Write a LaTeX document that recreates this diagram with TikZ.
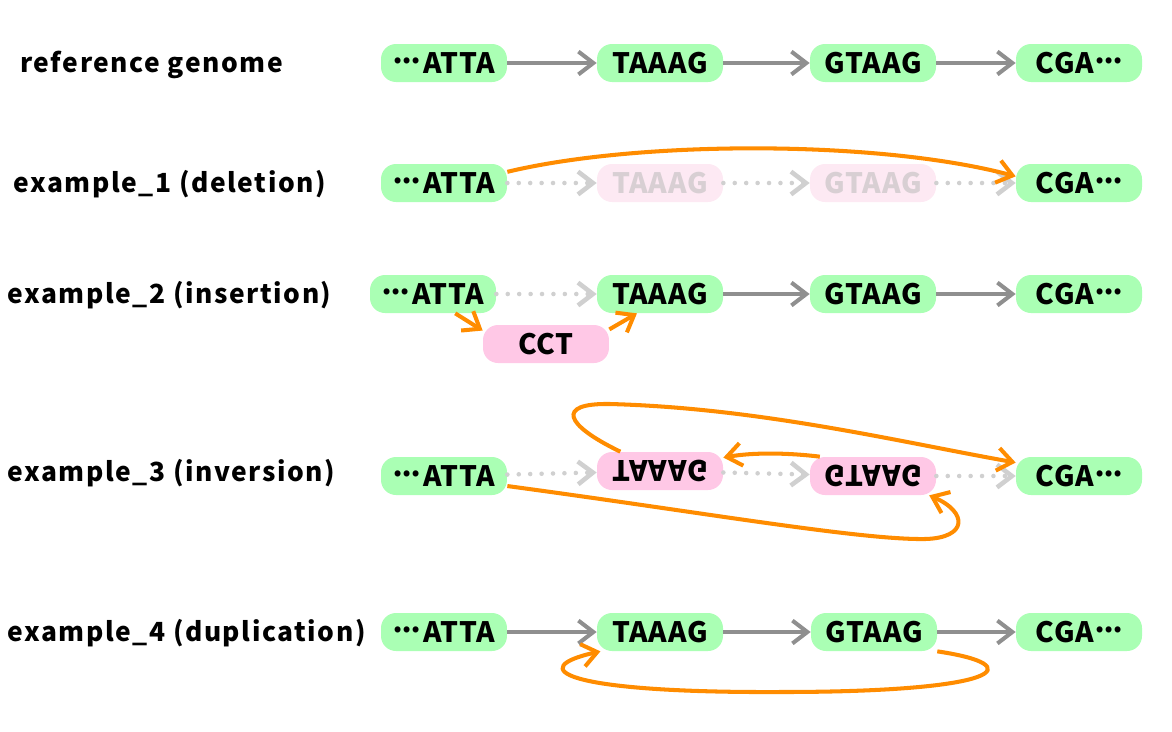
\documentclass[tikz,border=0pt]{standalone}
\usepackage{fontspec}
\setmainfont{Noto Sans CJK JP}
\usetikzlibrary{arrows.meta}

\definecolor{basegreen}{HTML}{AAFFB4}
\definecolor{varpink}{HTML}{FFC8E6}
\definecolor{ghostpink}{HTML}{FDE9F3}
\definecolor{ghosttext}{HTML}{D8CFD3}
\definecolor{linkgray}{HTML}{8F8F8F}
\definecolor{dotgray}{HTML}{D0D0D0}
\definecolor{jumporange}{HTML}{FF8C00}

% 居中的省略号
\newcommand{\middots}{\hspace{0.04em}\raisebox{0.06em}{\makebox[0.32em]{·}\makebox[0.32em]{·}\makebox[0.32em]{·}}\hspace{0.08em}}

\begin{document}
\begin{tikzpicture}[x=0.02cm, y=-0.02cm,
    seq/.style={rounded corners=0.3cm, minimum width=2.52cm, minimum height=0.76cm,
      inner sep=0pt, font=\fontsize{16}{18}\selectfont\bfseries\addfontfeatures{LetterSpace=3}},
    refseq/.style={seq, fill=basegreen},
    varseq/.style={seq, fill=varpink},
    ghostseq/.style={seq, fill=ghostpink, text=ghosttext},
    rowlabel/.style={anchor=base west, inner sep=0pt,
      font=\fontsize{15}{17}\selectfont\bfseries\addfontfeatures{LetterSpace=6}},
    tip/.style={-{Straight Barb[length=8.5pt, width=13pt]}},
    link/.style={tip, draw=linkgray, line width=2.3pt},
    skip/.style={tip, draw=dotgray, line width=2.6pt, line cap=round, dash pattern=on 0pt off 6.5pt},
    jump/.style={tip, draw=jumporange, line width=2.3pt}]
  \useasboundingbox (0,0) rectangle (1172,731);

  % 参考基因组
  \node[rowlabel] (lab0) at (20,72) {reference genome};
  \node[refseq] (refA) at (444,63) {\middots ATTA};
  \node[refseq] (refB) at (660,63) {TAAAG};
  \node[refseq] (refC) at (873,63) {GTAAG};
  \node[refseq] (refD) at (1079,63) {CGA\middots};
  \draw[link] (refA) -- (refB);
  \draw[link] (refB) -- (refC);
  \draw[link] (refC) -- (refD);

  % 缺失
  \node[rowlabel] (lab1) at (13,192) {example\_1 (deletion)};
  \node[refseq] (delA) at (444,183) {\middots ATTA};
  \node[ghostseq] (delB) at (660,183) {TAAAG};
  \node[ghostseq] (delC) at (873,183) {GTAAG};
  \node[refseq] (delD) at (1079,183) {CGA\middots};
  \draw[skip] (delA) -- (delB);
  \draw[skip] (delB) -- (delC);
  \draw[skip] (delC) -- (delD);
  \draw[jump] (delA.10) .. controls (640,140) and (880,140) .. (delD.174);

  % 插入
  \node[rowlabel] (lab2) at (7,303) {example\_2 (insertion)};
  \node[refseq] (insA) at (433,294) {\middots ATTA};
  \node[varseq] (insX) at (546,344) {CCT};
  \node[refseq] (insB) at (660,294) {TAAAG};
  \node[refseq] (insC) at (873,294) {GTAAG};
  \node[refseq] (insD) at (1079,294) {CGA\middots};
  \draw[skip] (insA) -- (insB);
  \draw[link] (insB) -- (insC);
  \draw[link] (insC) -- (insD);
  \draw[jump] (insA.-41) -- (insX.168);
  \draw[jump] (insX.13) -- (insB.220);

  % 倒位
  \node[rowlabel] (lab3) at (7,481) {example\_3 (inversion)};
  \node[refseq] (invA) at (444,476) {\middots ATTA};
  \node[varseq] (invB) at (660,471) {\scalebox{1}[-1]{TAAAG}};
  \node[varseq] (invC) at (873,476) {\scalebox{1}[-1]{GTAAG}};
  \node[refseq] (invD) at (1079,476) {CGA\middots};
  \draw[skip] (invA) -- (invB);
  \draw[skip] (invB) -- (invC);
  \draw[skip] (invC) -- (invD);
  \draw[jump] (invA.-9) .. controls (700,512) and (860,540) .. (925,539)
    .. controls (968,538) and (968,512) .. (invC.-19);
  \draw[jump] (invC.160) .. controls (790,453) and (755,452) .. (invB.12);
  \draw[jump] (invB.154) .. controls (565,425) and (555,403) .. (610,404)
    .. controls (760,408) and (900,442) .. (invD.168);

  % 重复
  \node[rowlabel] (lab4) at (7,641) {example\_4 (duplication)};
  \node[refseq] (dupA) at (444,632) {\middots ATTA};
  \node[refseq] (dupB) at (660,632) {TAAAG};
  \node[refseq] (dupC) at (874,632) {GTAAG};
  \node[refseq] (dupD) at (1079,632) {CGA\middots};
  \draw[link] (dupA) -- (dupB);
  \draw[link] (dupB) -- (dupC);
  \draw[link] (dupC) -- (dupD);
  \draw[jump] (dupC.-17) .. controls (1030,665) and (1005,692) .. (780,692)
    .. controls (560,693) and (525,668) .. (dupB.198);
\end{tikzpicture}
\end{document}
